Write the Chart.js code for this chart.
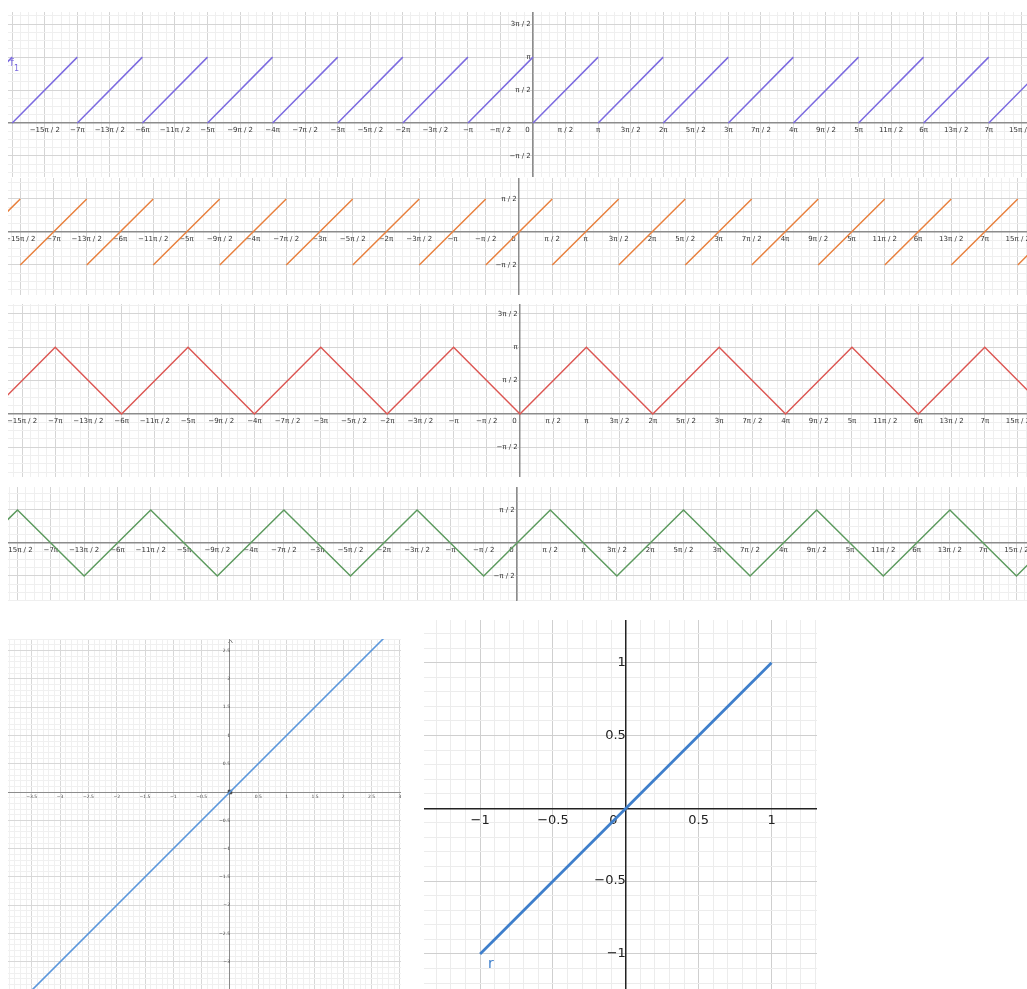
<!DOCTYPE html>
<html><head><meta charset="utf-8">
<script src="https://cdn.jsdelivr.net/npm/chart.js@4.4.1/dist/chart.umd.min.js"></script>
<style>
html,body{margin:0;padding:0;background:#fff;}
#wrap{position:relative;width:1027px;height:989px;overflow:hidden;background:#fff;}
#wrap canvas{position:absolute;}
</style></head><body><div id="wrap"></div>
<script>
const PI = Math.PI;

// ---- data (x and y of the wave panels are in multiples of π) ----
// f1: sawtooth, each piece rises from 0 to π over one π
const f1Starts = [-9,-8,-7,-6,-5,-4,-3,-2,-1,0,1,2,3,4,5,6,7];
const f1Range = [0, 1];
// orange: each piece rises from −π/2 to π/2 over one π
const f2Starts = [-8.5,-7.5,-6.5,-5.5,-4.5,-3.5,-2.5,-1.5,-0.5,0.5,1.5,2.5,3.5,4.5,5.5,6.5,7.5];
const f2Range = [-0.5, 0.5];
// red triangle wave vertices
const f3X = [-8,-7,-6,-5,-4,-3,-2,-1,0,1,2,3,4,5,6,7,8];
const f3Y = [0,1,0,1,0,1,0,1,0,1,0,1,0,1,0,1,0];
// green triangle wave vertices
const f4X = [-8.5,-7.5,-6.5,-5.5,-4.5,-3.5,-2.5,-1.5,-0.5,0.5,1.5,2.5,3.5,4.5,5.5,6.5,7.5,8.5];
const f4Y = [-0.5,0.5,-0.5,0.5,-0.5,0.5,-0.5,0.5,-0.5,0.5,-0.5,0.5,-0.5,0.5,-0.5,0.5,-0.5,0.5];
// straight line y = x (left lower panel)
const f5X = [-4, 4];
const f5Y = [-4, 4];
const originX = [0], originY = [0];
// segment r (right lower panel)
const rX = [-1, 1];
const rY = [-1, 1];

// ---- helpers ----
function sawPoints(starts, range){
  const pts = [];
  starts.forEach(s => {
    pts.push({x: s*PI, y: range[0]*PI});
    pts.push({x: (s+1)*PI, y: range[1]*PI});
    pts.push({x: (s+1)*PI, y: null});
  });
  return pts;
}
function zipPts(xs, ys, k){ return xs.map((x,i)=>({x:x*k, y:ys[i]*k})); }

const MINUS = '\u2212';
function piLabel(v){
  const n = Math.round(v/(PI/2));
  if (Math.abs(v - n*PI/2) > 1e-6) return null;
  if (n === 0) return '0';
  const neg = n < 0 ? MINUS : '';
  const a = Math.abs(n);
  if (a % 2 === 0){ const m = a/2; return neg + (m===1 ? '' : m) + 'π'; }
  return neg + (a===1 ? '' : a) + 'π / 2';
}
function isMajorPi(v){ const n = Math.round(v/(PI/2)); return Math.abs(v - n*PI/2) < 1e-6; }
function isMajorDec(v){ const n = Math.round(v/0.5); return Math.abs(v - n*0.5) < 1e-6; }
function decLabel(v){
  if (!isMajorDec(v)) return null;
  const r = Math.round(v*10)/10;
  if (Math.abs(r) < 1e-9) return '0';
  return (r<0?MINUS:'') + String(Math.abs(r));
}

const annotPlugin = {
  id: 'annot',
  afterDatasetsDraw(chart, args, opts){
    const ctx = chart.ctx;
    (opts.items||[]).forEach(it => {
      const px = chart.scales.x.getPixelForValue(it.x) + it.dx;
      const py = chart.scales.y.getPixelForValue(it.y) + it.dy;
      ctx.save();
      ctx.fillStyle = it.color;
      ctx.font = it.font;
      ctx.textBaseline = 'alphabetic';
      ctx.fillText(it.text, px, py);
      if (it.sub){ ctx.font = it.subFont; ctx.fillText(it.sub, px + ctx.measureText(it.text).width + 1, py + 5); }
      ctx.restore();
    });
    (opts.arrows||[]).forEach(a => {
      const px = Math.round(chart.scales.x.getPixelForValue(0)) + 0.5;
      const py = chart.chartArea.top + 1;
      ctx.save(); ctx.strokeStyle = a.color; ctx.lineWidth = 1;
      ctx.beginPath(); ctx.moveTo(px-2, py+3); ctx.lineTo(px, py); ctx.lineTo(px+2, py+3); ctx.stroke();
      ctx.restore();
    });
  }
};

function zeroPad(s){ s.paddingLeft = 0; s.paddingRight = 0; s.paddingTop = 0; s.paddingBottom = 0; }

function makeChart(p){
  const cv = document.createElement('canvas');
  cv.width = p.w; cv.height = p.h;
  cv.style.left = p.left + 'px'; cv.style.top = p.top + 'px';
  cv.style.width = p.w + 'px'; cv.style.height = p.h + 'px';
  document.getElementById('wrap').appendChild(cv);
  const isMajor = p.pi ? isMajorPi : isMajorDec;
  const lab = p.pi ? piLabel : decLabel;
  const step = p.pi ? PI/8 : 0.1;
  const font = {family: 'DejaVu Sans', size: p.fontSize};
  const gridCol = ctx => isMajor(ctx.tick.value) ? p.major : p.minor;
  const xPix = v => (v - p.xmin) / (p.xmax - p.xmin) * p.w;
  new Chart(cv, {
    type: 'scatter',
    data: {datasets: p.datasets},
    options: {
      responsive: false, animation: false, devicePixelRatio: 1,
      layout: {padding: 0, autoPadding: false},
      plugins: {legend: {display: false}, tooltip: {enabled: false}, annot: p.annot || {}},
      scales: {
        x: {
          type: 'linear', min: p.xmin, max: p.xmax, position: {y: 0},
          ticks: {stepSize: step, autoSkip: false, maxRotation: 0, minRotation: 0, includeBounds: false,
                  font: font, color: p.labelColor, padding: p.xPad,
                  callback: v => {
                    const s = lab(v);
                    if (s === null) return '';
                    if (xPix(v) < p.edgeHide) return '';
                    if (s === '0') return p.hideZero ? '' : '0' + p.zeroSpaces;
                    return s;
                  }},
          grid: {color: gridCol, lineWidth: 1, drawTicks: false},
          border: {color: p.axisColor, width: p.axisWidth},
          afterFit: zeroPad
        },
        y: {
          type: 'linear', min: p.ymin, max: p.ymax, position: {x: 0},
          ticks: {stepSize: step, autoSkip: false, includeBounds: false,
                  font: font, color: p.labelColor, padding: p.yPad,
                  callback: v => { const s = lab(v); if (s === null || s === '0') return ''; return s + p.ySpaces; }},
          grid: {color: gridCol, lineWidth: 1, drawTicks: false},
          border: {color: p.axisColor, width: p.axisWidth},
          afterFit: zeroPad
        }
      }
    },
    plugins: [annotPlugin]
  });
}

const lineDs = (data, color, w) => ({data, showLine: true, borderColor: color, borderWidth: w, pointRadius: 0, fill: false, spanGaps: false});
const waveCommon = {pi: true, fontSize: 7, labelColor: '#333', major: '#d5d5d5', minor: '#efefef',
  axisColor: '#8c8c8c', axisWidth: 1.5, xPad: 3, yPad: 3, zeroSpaces: '     ', ySpaces: ' ', edgeHide: 8, hideZero: false};

makeChart(Object.assign({}, waveCommon, {
  left: 8, top: 12, w: 1019, h: 165,
  xmin: -8.065*PI, xmax: 7.588*PI, ymin: -0.82*PI, ymax: 1.685*PI,
  datasets: [lineDs(sawPoints(f1Starts, f1Range), '#7c6be0', 1.5)],
  annot: {items: [{x: -8*PI, y: PI, dx: -2, dy: 9, text: 'f', sub: '1', color: '#7c6be0', font: '10px DejaVu Sans', subFont: '8px DejaVu Sans'}]}
}));
makeChart(Object.assign({}, waveCommon, {
  left: 8, top: 178, w: 1019, h: 117,
  xmin: -7.684*PI, xmax: 7.639*PI, ymin: -0.955*PI, ymax: 0.818*PI,
  datasets: [lineDs(sawPoints(f2Starts, f2Range), '#e8803e', 1.5)]
}));
makeChart(Object.assign({}, waveCommon, {
  left: 8, top: 304, w: 1019, h: 173,
  xmin: -7.711*PI, xmax: 7.636*PI, ymin: -0.945*PI, ymax: 1.649*PI,
  datasets: [lineDs(zipPts(f3X, f3Y, PI), '#dc5652', 1.5)]
}));
makeChart(Object.assign({}, waveCommon, {
  left: 8, top: 487, w: 1019, h: 114,
  xmin: -7.643*PI, xmax: 7.658*PI, ymin: -0.879*PI, ymax: 0.848*PI,
  datasets: [lineDs(zipPts(f4X, f4Y, PI), '#5c9a5e', 1.5)]
}));
makeChart({
  pi: false, fontSize: 4.5, labelColor: '#444', major: '#d8d8d8', minor: '#f0f0f0',
  axisColor: '#8c8c8c', axisWidth: 1, xPad: 2, yPad: 7, zeroSpaces: '', ySpaces: '', edgeHide: 0, hideZero: true,
  left: 8, top: 639, w: 393, h: 350,
  xmin: -3.919, xmax: 3.019, ymin: -3.477, ymax: 2.701,
  datasets: [lineDs(zipPts(f5X, f5Y, 1), '#5b97dc', 1.6),
             {data: zipPts(originX, originY, 1), pointStyle: 'rect', pointRadius: 2.5, backgroundColor: '#444', borderColor: '#444', showLine: false}],
  annot: {arrows: [{color: '#888'}]}
});
makeChart({
  pi: false, fontSize: 13, labelColor: '#222', major: '#cfcfcf', minor: '#ececec',
  axisColor: '#222', axisWidth: 1.5, xPad: 5, yPad: 7, zeroSpaces: '      ', ySpaces: '', edgeHide: 0, hideZero: false,
  left: 424, top: 620, w: 393, h: 369,
  xmin: -1.385, xmax: 1.312, ymin: -1.241, ymax: 1.293,
  datasets: [lineDs(zipPts(rX, rY, 1), '#3f7fcb', 2.8)],
  annot: {items: [{x: -1, y: -1, dx: 8, dy: 14, text: 'r', color: '#3f7fcb', font: '14px DejaVu Sans'}]}
});
</script></body></html>
